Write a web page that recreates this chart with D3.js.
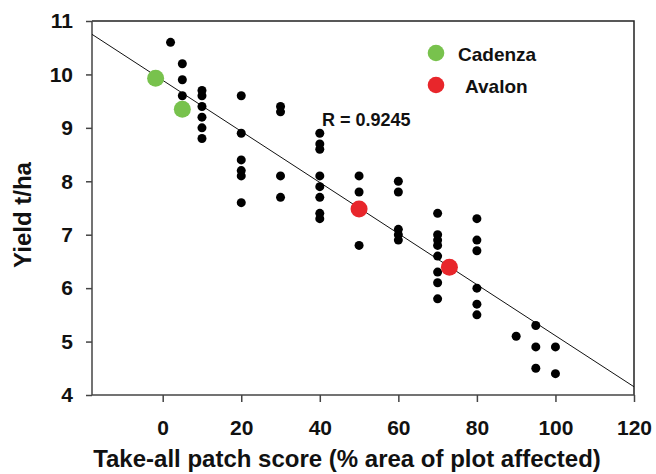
<!DOCTYPE html>
<html>
<head>
<meta charset="utf-8">
<script src="https://cdn.jsdelivr.net/npm/d3@7"></script>
<style>
  body { margin: 0; background: #fff; }
  text { font-family: Arial, "Liberation Sans", sans-serif; font-weight: bold; fill: #111; }
</style>
</head>
<body>
<div id="chart"></div>
<script>
// field plots: patch score (%) vs yield
const scoreX = [2, 5, 5, 5, 10, 10, 10, 10, 10, 10,
  20, 20, 20, 20, 20, 20, 30, 30, 30, 30,
  40, 40, 40, 40, 40, 40, 40, 40, 50, 50, 50,
  60, 60, 60, 60, 60, 70, 70, 70, 70, 70, 70, 70, 70,
  80, 80, 80, 80, 80, 80, 90, 95, 95, 95, 100, 100];
const yieldY = [10.6, 10.2, 9.9, 9.6, 9.7, 9.6, 9.4, 9.2, 9.0, 8.8,
  9.6, 8.9, 8.4, 8.2, 8.1, 7.6, 9.4, 9.3, 8.1, 7.7,
  8.9, 8.7, 8.6, 8.1, 7.9, 7.7, 7.4, 7.3, 8.1, 7.8, 6.8,
  8.0, 7.8, 7.1, 7.0, 6.9, 7.4, 7.0, 6.9, 6.8, 6.6, 6.3, 6.1, 5.8,
  7.3, 6.9, 6.7, 6.0, 5.7, 5.5, 5.1, 5.3, 4.9, 4.5, 4.9, 4.4];

const cadenzaX = [-1.8, 5];
const cadenzaY = [9.93, 9.35];
const avalonX = [50, 73];
const avalonY = [7.48, 6.39];

const fitIntercept = 9.89;
const fitSlope = -0.0478;
const rLabel = "R = 0.9245";

const xTicks = [0, 20, 40, 60, 80, 100, 120];
const yTicks = [4, 5, 6, 7, 8, 9, 10, 11];

const W = 656, H = 474;
const margin = { top: 21, right: 22, bottom: 79, left: 92 };
const width = W - margin.left - margin.right;
const height = H - margin.top - margin.bottom;

const svg = d3.select("#chart").append("svg")
  .attr("width", W).attr("height", H);
const g = svg.append("g").attr("transform", `translate(${margin.left},${margin.top})`);

const x = d3.scaleLinear().domain([-18, 120]).range([0, width]);
const y = d3.scaleLinear().domain([4, 11]).range([height, 0]);

// frame top + right
g.append("path")
  .attr("d", `M0,0H${width}V${height}`)
  .attr("fill", "none").attr("stroke", "#222").attr("stroke-width", 1.5);

const xAxis = g.append("g").attr("transform", `translate(0,${height})`)
  .call(d3.axisBottom(x).tickValues(xTicks).tickFormat(d3.format("d"))
    .tickSize(7).tickPadding(18).tickSizeOuter(0));
const yAxis = g.append("g")
  .call(d3.axisLeft(y).tickValues(yTicks).tickFormat(d3.format("d"))
    .tickSize(6).tickPadding(13).tickSizeOuter(0));
[xAxis, yAxis].forEach(a => {
  a.selectAll("path, line").attr("stroke", "#444").attr("stroke-width", 1.5);
  a.selectAll("text").attr("font-size", 21).attr("fill", "#111")
    .style("font-family", "Arial, 'Liberation Sans', sans-serif").style("font-weight", "bold");
});
xAxis.select(".domain").attr("d", `M0,0H${width}`);
yAxis.select(".domain").attr("d", `M0,0V${height}`);

// regression line
g.append("line")
  .attr("x1", x(-18)).attr("y1", y(fitIntercept + fitSlope * -18))
  .attr("x2", x(120)).attr("y2", y(fitIntercept + fitSlope * 120))
  .attr("stroke", "#111").attr("stroke-width", 1);

g.selectAll(".pt").data(scoreX.map((v, i) => [v, yieldY[i]]))
  .enter().append("circle").attr("class", "pt")
  .attr("cx", d => x(d[0])).attr("cy", d => y(d[1])).attr("r", 4.5)
  .attr("fill", "#000");

g.selectAll(".cad").data(cadenzaX.map((v, i) => [v, cadenzaY[i]]))
  .enter().append("circle").attr("class", "cad")
  .attr("cx", d => x(d[0])).attr("cy", d => y(d[1])).attr("r", 8.5)
  .attr("fill", "#78c24d");

g.selectAll(".ava").data(avalonX.map((v, i) => [v, avalonY[i]]))
  .enter().append("circle").attr("class", "ava")
  .attr("cx", d => x(d[0])).attr("cy", d => y(d[1])).attr("r", 8.5)
  .attr("fill", "#e8262b");

g.append("text").attr("x", 230).attr("y", 105).attr("font-size", 18).text(rLabel);

// legend
const legend = [["Cadenza", "#78c24d", 0], ["Avalon", "#e8262b", 7]];
legend.forEach((l, i) => {
  g.append("circle").attr("cx", 344).attr("cy", 32 + i * 32).attr("r", 8.3).attr("fill", l[1]);
  g.append("text").attr("x", 366 + l[2]).attr("y", 40 + i * 32).attr("font-size", 19).text(l[0]);
});

svg.append("text").attr("x", 347).attr("y", 467)
  .attr("text-anchor", "middle").attr("font-size", 24)
  .text("Take-all patch score (% area of plot affected)");
svg.append("text")
  .attr("transform", `translate(31,215) rotate(-90)`)
  .attr("text-anchor", "middle").attr("font-size", 24).text("Yield t/ha");
</script>
</body>
</html>
